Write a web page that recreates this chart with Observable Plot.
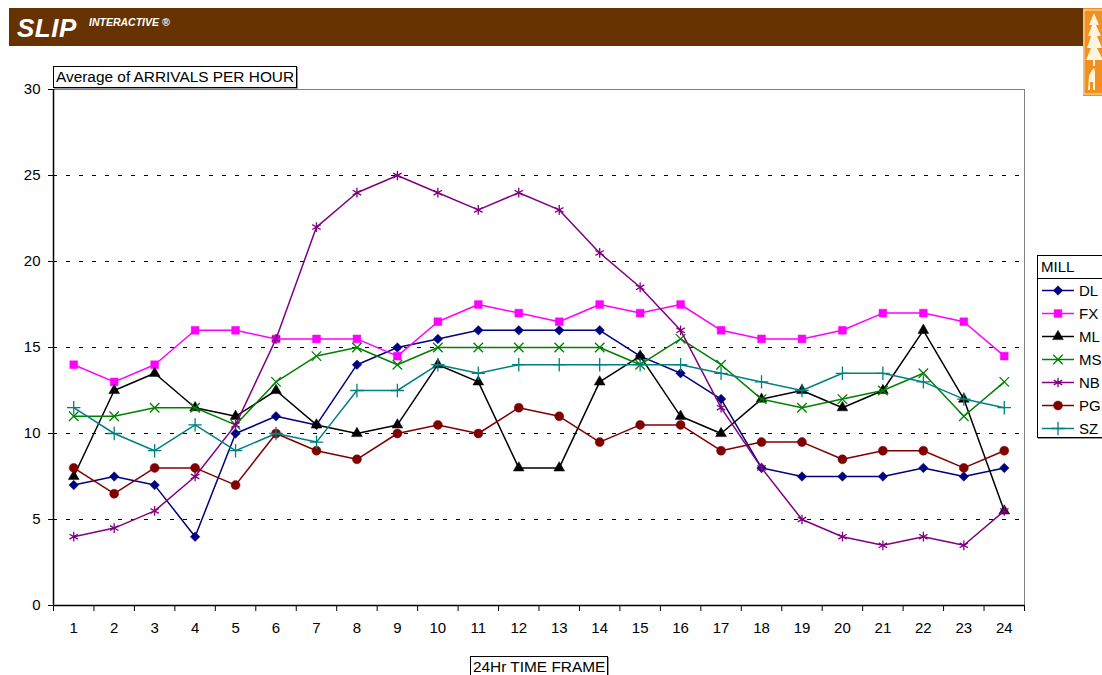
<!DOCTYPE html>
<html>
<head>
<meta charset="utf-8">
<script src="https://cdn.jsdelivr.net/npm/d3@7"></script>
<script src="https://cdn.jsdelivr.net/npm/@observablehq/plot@0.6"></script>
<style>
  body { margin: 0; background: #fff; font-family: "Liberation Sans", Arial, sans-serif; }
  #page { position: relative; width: 1102px; height: 675px; overflow: hidden; background: #fff; }
  #banner { position: absolute; left: 9px; top: 8px; width: 1074px; height: 38px; background: #663300; color: #fff; }
  #banner .slip { position: absolute; left: 8px; top: 5px; font-size: 26px; font-weight: bold; font-style: italic; letter-spacing: 0.5px; }
  #banner .inter { position: absolute; left: 80px; top: 8px; font-size: 10.5px; font-weight: bold; font-style: italic; }
  #logo { position: absolute; left: 1083px; top: 8px; width: 22px; height: 88px; }
  #chart { position: absolute; left: 0; top: 0; }
  #chart svg text { font-size: 15px !important; font-family: "Liberation Sans", Arial, sans-serif !important; }
  .boxtitle { position: absolute; border: 1px solid #000; box-shadow: 1px 1px 0 #999; background: #fff; font-size: 15.4px; line-height: 20px; padding: 0 2px; white-space: nowrap; }
  #ytitle { left: 53px; top: 66px; }
  #xtitle { left: 470px; top: 656px; }
  #legend { position: absolute; left: 1037px; top: 255px; width: 80px; height: 181px; border: 1px solid #000; box-shadow: 1px 1px 0 #999; background: #fff; font-size: 15px; }
  #legend .head { height: 22px; line-height: 22px; padding-left: 3px; border-bottom: 1px solid #000; }
</style>
</head>
<body>
<div id="page">
  <div id="banner"><span class="slip">SLIP</span><span class="inter">INTERACTIVE ®</span></div>
  <div id="logo">
    <svg width="22" height="88" viewBox="0 0 22 88">
      <rect x="0" y="0" width="22" height="88" fill="#f0901e"/>
      <rect x="1" y="2" width="20" height="84" fill="none" stroke="#fbe3c0" stroke-width="1"/>
      <path d="M11 5 L16 17 L13 17 L18 28 L14 28 L19 40 L14 40 L20 52 L12 52 L12 58 L10 58 L10 52 L3 52 L8 40 L4 40 L8 28 L5 28 L9 17 L6 17 Z" fill="#fff4e0"/>
      <path d="M9 62 L11 60 L12 64 L12 82 L10 82 L10 74 L7 74 L7 82 L5 82 L6 68 Z" fill="#fff4e0"/>
    </svg>
  </div>
  <div id="chart"></div>
  <div id="ytitle" class="boxtitle">Average of ARRIVALS PER HOUR</div>
  <div id="xtitle" class="boxtitle">24Hr TIME FRAME</div>
  <div id="legend"><div class="head">MILL</div></div>
</div>
<script>
// Hours of the day (x axis categories)
const hours = [1, 2, 3, 4, 5, 6, 7, 8, 9, 10, 11, 12, 13, 14, 15, 16, 17, 18, 19, 20, 21, 22, 23, 24];

// Mills, in legend order
const mills = ["DL", "FX", "ML", "MS", "NB", "PG", "SZ"];

// Average arrivals per hour for each mill
const DL = [7, 7.5, 7, 4, 10, 11, 10.5, 14, 15, 15.5, 16, 16, 16, 16, 14.5, 13.5, 12, 8, 7.5, 7.5, 7.5, 8, 7.5, 8];
const FX = [14, 13, 14, 16, 16, 15.5, 15.5, 15.5, 14.5, 16.5, 17.5, 17, 16.5, 17.5, 17, 17.5, 16, 15.5, 15.5, 16, 17, 17, 16.5, 14.5];
const ML = [7.5, 12.5, 13.5, 11.5, 11, 12.5, 10.5, 10, 10.5, 14, 13, 8, 8, 13, 14.5, 11, 10, 12, 12.5, 11.5, 12.5, 16, 12, 5.5];
const MS = [11, 11, 11.5, 11.5, 10.5, 13, 14.5, 15, 14, 15, 15, 15, 15, 15, 14, 15.5, 14, 12, 11.5, 12, 12.5, 13.5, 11, 13];
const NB = [4, 4.5, 5.5, 7.5, 10.5, 15.5, 22, 24, 25, 24, 23, 24, 23, 20.5, 18.5, 16, 11.5, 8, 5, 4, 3.5, 4, 3.5, 5.5];
const PG = [8, 6.5, 8, 8, 7, 10, 9, 8.5, 10, 10.5, 10, 11.5, 11, 9.5, 10.5, 10.5, 9, 9.5, 9.5, 8.5, 9, 9, 8, 9];
const SZ = [11.5, 10, 9, 10.5, 9, 10, 9.5, 12.5, 12.5, 14, 13.5, 14, 14, 14, 14, 14, 13.5, 13, 12.5, 13.5, 13.5, 13, 12, 11.5];

// Y axis ticks and dashed gridlines
const yTicks = [0, 5, 10, 15, 20, 25, 30];
const gridValues = [5, 10, 15, 20, 25];

const seriesValues = {DL, FX, ML, MS, NB, PG, SZ};
const colors = ["#000080", "#ff00ff", "#000000", "#008000", "#800080", "#800000", "#008080"];
const symbols = ["diamond2", "square", "triangle", "times", "asterisk", "circle", "plus"];
const filled = [true, true, true, false, false, true, false];
const radii = [4.3, 4.4, 4.0, 4.4, 4.6, 4.5, 4.4];

const rows = mills.flatMap(m => hours.map((h, i) => ({mill: m, hour: h, value: seriesValues[m][i]})));

const marks = [
  Plot.ruleY(gridValues, {stroke: "#000", strokeWidth: 1, strokeDasharray: "4,9"}),
  Plot.frame({stroke: "#808080", strokeWidth: 1}),
  Plot.axisY({ticks: yTicks, tickSize: 5, tickPadding: 8, fontSize: 15, label: null, stroke: "#000"}),
  Plot.axisX({ticks: d3.range(0.5, 25, 1), tickSize: 6, tickFormat: () => "", label: null}),
  Plot.axisX({ticks: hours, tickSize: 0, tickPadding: 17, fontSize: 15, label: null}),
  Plot.ruleX([0.5], {stroke: "#000", strokeWidth: 1.5}),
  Plot.ruleY([0], {stroke: "#000", strokeWidth: 1.5})
];

mills.forEach((m, k) => {
  const data = rows.filter(d => d.mill === m);
  marks.push(Plot.line(data, {x: "hour", y: "value", stroke: colors[k], strokeWidth: 1.5}));
  marks.push(Plot.dot(data, {
    x: "hour", y: "value", symbol: () => symbols[k], r: radii[k],
    fill: filled[k] ? colors[k] : "none",
    stroke: colors[k], strokeWidth: filled[k] ? 0.5 : 1.3
  }));
});

const chart = Plot.plot({
  width: 1102,
  height: 675,
  marginLeft: 53,
  marginRight: 78,
  marginTop: 89,
  marginBottom: 70,
  style: {fontFamily: "'Liberation Sans', Arial, sans-serif", fontSize: "15px", color: "#000", background: "transparent"},
  x: {type: "linear", domain: [0.5, 24.5]},
  y: {domain: [0, 30]},
  symbol: {type: "identity"},
  marks
});
document.getElementById("chart").appendChild(chart);

// Legend entries: line sample with marker, then mill name
const symMap = {diamond2: d3.symbolDiamond2, square: d3.symbolSquare, triangle: d3.symbolTriangle,
  times: d3.symbolTimes, asterisk: d3.symbolAsterisk, circle: d3.symbolCircle, plus: d3.symbolPlus};
const legend = d3.select("#legend");
mills.forEach((m, k) => {
  const row = legend.append("div").style("height", "23px").style("display", "flex").style("align-items", "center");
  const svg = row.append("svg").attr("width", 36).attr("height", 23).style("margin-left", "4px");
  svg.append("line").attr("x1", 0).attr("x2", 32).attr("y1", 11.5).attr("y2", 11.5)
    .attr("stroke", colors[k]).attr("stroke-width", 1.5);
  svg.append("path").attr("d", d3.symbol(symMap[symbols[k]], Math.PI * radii[k] * radii[k])())
    .attr("transform", "translate(16,11.5)")
    .attr("fill", filled[k] ? colors[k] : "none")
    .attr("stroke", colors[k]).attr("stroke-width", filled[k] ? 0.5 : 1.3);
  row.append("span").text(m).style("margin-left", "1px");
});
</script>
</body>
</html>
